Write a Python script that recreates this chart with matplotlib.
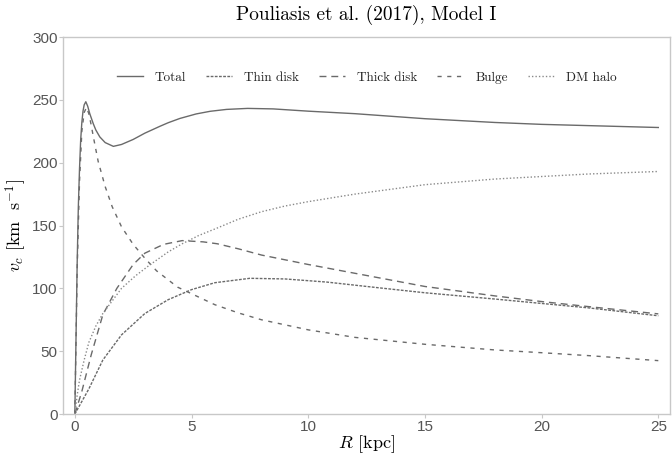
import numpy as np
import matplotlib
matplotlib.use("Agg")
import matplotlib.pyplot as plt

# ===== Data (R in kpc, v in km/s) =====
r_total = [0, 0.05, 0.1, 0.15, 0.2, 0.25, 0.3, 0.35, 0.4, 0.47, 0.55, 0.64, 0.79, 0.9,
           1.07, 1.3, 1.65, 2.0, 2.5, 3.0, 3.65, 4.0, 4.5, 5.2, 5.8, 6.5, 7.4, 8.5, 10, 12,
           15, 18, 20, 22, 25]
v_total = [0, 60, 120, 165, 195, 218, 232, 241, 246, 248.5, 245, 239, 231, 226,
           220.5, 216, 213, 214.5, 218.5, 223.5, 229, 231.8, 235.2, 238.8, 240.9, 242.4, 243.2, 242.8, 241, 239,
           235, 232, 230.5, 229.5, 228]

r_thin = [0, 0.6, 1.2, 2.0, 3.0, 4.0, 5.0, 6.0, 7.5, 9.0, 10.8, 13, 15, 18, 20, 22, 25]
v_thin = [0, 20, 43, 63, 80, 91, 99, 104.5, 108, 107.5, 105, 100.5, 96.5, 91.5, 88, 84.5, 78.2]

r_thick = [0, 0.3, 0.7, 1.2, 1.8, 2.5, 3.0, 3.8, 4.6, 5.5, 6.1, 7, 8, 10, 12, 15, 18, 20, 22, 25]
v_thick = [0, 18, 47, 79, 100, 119, 128, 135, 138, 137, 135.5, 131.5, 126.5, 119, 112, 101.5, 94, 89.5, 85.5, 79.7]

r_bulge = [0, 0.1, 0.2, 0.3, 0.4, 0.5, 0.6, 0.7, 0.8, 1.0, 1.3, 1.6, 2.0, 2.5, 3.0, 3.5,
           4.4, 5.2, 6, 7, 8, 10, 12, 15, 18, 20, 22, 25]
v_bulge = [0, 115, 185, 225, 240, 244, 239, 230, 220, 201, 181, 165, 149, 135, 124, 114,
           101, 94, 87, 80.5, 75, 67, 61, 55.5, 51, 48.8, 46.5, 42.5]

r_halo = [0, 0.1, 0.2, 0.4, 0.6, 0.9, 1.2, 1.6, 2.0, 2.6, 3.2, 4.0, 4.6, 5.3, 6.1, 7, 8, 9, 10,
          12, 15, 18, 20, 22, 25]
v_halo = [0, 15, 27, 43, 57, 70, 80, 90, 100, 110, 118.5, 129, 135.5, 142, 148, 155, 161, 165.5, 169,
          175, 182.5, 187, 189, 191, 193]

x_ticks = [0, 5, 10, 15, 20, 25]
y_ticks = [0, 50, 100, 150, 200, 250, 300]

plt.rcParams['mathtext.fontset'] = 'cm'
plt.rcParams['axes.unicode_minus'] = False
serif = 'cmr10'
line_col = '#6a6a6a'

fig = plt.figure(figsize=(6.72, 4.57), dpi=100)
ax = fig.add_axes([0.094, 0.094, 0.903, 0.825])

ax.plot(r_total, v_total, color=line_col, lw=1.0, label='Total')
ax.plot(r_thin, v_thin, color=line_col, lw=1.0, dashes=(2, 1), label='Thin disk')
ax.plot(r_thick, v_thick, color=line_col, lw=1.0, dashes=(5, 3.5), label='Thick disk')
ax.plot(r_bulge, v_bulge, color=line_col, lw=1.0, dashes=(3, 4), label='Bulge')
ax.plot(r_halo, v_halo, color='#8a8a8a', lw=1.0, dashes=(1, 1.5), label='DM halo')

ax.set_xlim(-0.5, 25.5)
ax.set_ylim(0, 300)
ax.set_xticks(x_ticks)
ax.set_yticks(y_ticks)

for s in ax.spines.values():
    s.set_color('#c8c8c8')
    s.set_linewidth(1.0)
ax.tick_params(colors='#c8c8c8', length=3, width=0.8, pad=1,
               labelcolor='#555555', labelsize=11)
for lab in ax.get_xticklabels() + ax.get_yticklabels():
    lab.set_fontfamily('Liberation Sans')

ax.set_xlabel(r'$R$ [kpc]', fontsize=13, family=serif, labelpad=0)
ax.set_ylabel(r'$v_c$ [km  s$^{-1}$]', fontsize=13, family=serif, labelpad=2)
ax.set_title('Pouliasis et al. (2017), Model I', fontsize=13.9, family=serif, pad=12)

leg = ax.legend(loc='upper center', bbox_to_anchor=(0.5, 0.94), ncol=5, frameon=False,
                prop={'family': serif, 'size': 9.5}, handlelength=2.0, columnspacing=1.5,
                handletextpad=0.9)
for t in leg.get_texts():
    t.set_color('#222222')

fig.savefig('out.png', dpi=100)
